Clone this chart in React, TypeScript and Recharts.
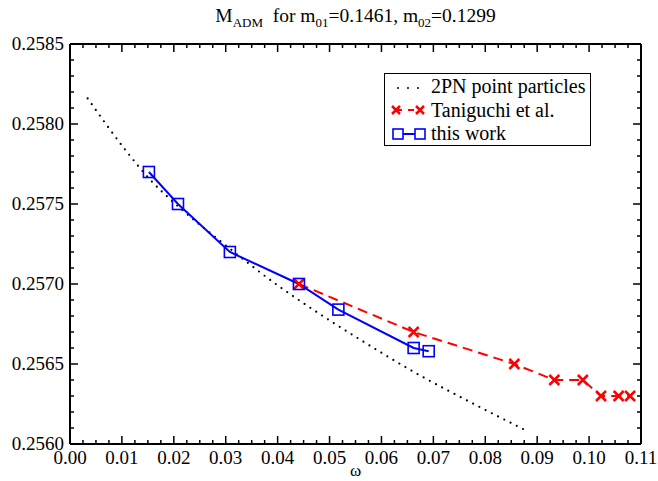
import React from 'react';
import { LineChart, Line, XAxis, YAxis, Legend } from 'recharts';

// 2PN point particles (black dotted curve)
const pnOmega = [0.0034, 0.0111, 0.0152, 0.0210, 0.0289, 0.0405, 0.0459, 0.0560, 0.0668, 0.0784, 0.0875];
const pnMass = [0.25816, 0.25782, 0.25766, 0.25748, 0.25727, 0.25698, 0.25686, 0.25665, 0.25644, 0.25624, 0.25609];

// Taniguchi et al. (red crosses, dashed)
const tanOmega = [0.0441, 0.0662, 0.0856, 0.0933, 0.0988, 0.1023, 0.1057, 0.1079];
const tanMass = [0.2570, 0.2567, 0.2565, 0.2564, 0.2564, 0.2563, 0.2563, 0.2563];

// this work (blue squares, solid)
const workOmega = [0.0152, 0.0208, 0.0308, 0.0441, 0.0517, 0.0662, 0.0691];
const workMass = [0.2577, 0.2575, 0.2572, 0.2570, 0.25684, 0.2566, 0.25658];

const xMajor = [0, 0.01, 0.02, 0.03, 0.04, 0.05, 0.06, 0.07, 0.08, 0.09, 0.1, 0.11];
const yMajor = [0.256, 0.2565, 0.257, 0.2575, 0.258, 0.2585];

const FONT = '"Liberation Serif", "Times New Roman", serif';

const zip = (xs: number[], ys: number[]) => xs.map((x, i) => ({ x, y: ys[i] }));
const pnData = zip(pnOmega, pnMass);
const tanData = zip(tanOmega, tanMass);
const workData = zip(workOmega, workMass);

const xTicks: number[] = [];
for (let i = 0; i <= 44; i++) xTicks.push(+(i * 0.0025).toFixed(4));
const yTicks: number[] = [];
for (let i = 0; i <= 25; i++) yTicks.push(+(0.256 + i * 0.0001).toFixed(4));

const isMajor = (v: number, majors: number[]) => majors.some((m) => Math.abs(m - v) < 1e-9);

const XTick = (side: 'top' | 'bottom') => (props: any) => {
  const { x, y, payload } = props;
  const major = isMajor(payload.value, xMajor);
  const len = major ? 8 : 4;
  const dir = side === 'bottom' ? -1 : 1;
  return (
    <g>
      <line x1={x} y1={y} x2={x} y2={y + dir * len} stroke="#000" strokeWidth={1.5} />
      {side === 'bottom' && major && (
        <text x={x} y={y + 20} textAnchor="middle" fontFamily={FONT} fontSize={19} fill="#000">
          {payload.value.toFixed(2)}
        </text>
      )}
    </g>
  );
};

const YTick = (side: 'left' | 'right') => (props: any) => {
  const { x, y, payload } = props;
  const major = isMajor(payload.value, yMajor);
  const len = major ? 8 : 4;
  const dir = side === 'left' ? 1 : -1;
  return (
    <g>
      <line x1={x} y1={y} x2={x + dir * len} y2={y} stroke="#000" strokeWidth={1.5} />
      {side === 'left' && major && (
        <text x={x - 6} y={y + 6} textAnchor="end" fontFamily={FONT} fontSize={19} fill="#000">
          {payload.value.toFixed(4)}
        </text>
      )}
    </g>
  );
};

const OmegaLabel = (props: any) => {
  const { viewBox } = props;
  return (
    <text x={viewBox.x + viewBox.width / 2} y={viewBox.y + 32} textAnchor="middle" fontFamily={FONT} fontSize={17} fill="#000">
      ω
    </text>
  );
};

const Cross = (props: any) => {
  const { cx, cy, index } = props;
  const s = 5;
  return (
    <path
      key={`c${index}`}
      d={`M${cx - s},${cy - s}L${cx + s},${cy + s}M${cx - s},${cy + s}L${cx + s},${cy - s}`}
      stroke="#ff0000"
      strokeWidth={2.5}
      fill="none"
    />
  );
};

const Square = (props: any) => {
  const { cx, cy, index } = props;
  return <rect key={`s${index}`} x={cx - 5.5} y={cy - 5.5} width={11} height={11} stroke="#0000ff" strokeWidth={1.6} fill="none" />;
};

const LegendBox = () => (
  <div
    style={{
      border: '1.5px solid #000',
      background: '#fff',
      width: 207,
      height: 73,
      boxSizing: 'border-box',
      fontFamily: FONT,
      fontSize: 20,
      color: '#000',
      padding: '1px 0 0 6px',
      lineHeight: '23.5px',
    }}
  >
    <div style={{ display: 'flex', alignItems: 'center' }}>
      <svg width={40} height={20}>
        <line x1={7} y1={11} x2={30} y2={11} stroke="#000" strokeWidth={2} strokeDasharray="0 10" strokeLinecap="round" />
      </svg>
      <span>2PN point particles</span>
    </div>
    <div style={{ display: 'flex', alignItems: 'center' }}>
      <svg width={40} height={20}>
        <line x1={5} y1={10} x2={29} y2={10} stroke="#ff0000" strokeWidth={2} strokeDasharray="6 6" />
        <path d="M1,6L9,14M1,14L9,6M25,6L33,14M25,14L33,6" stroke="#ff0000" strokeWidth={2.5} fill="none" />
      </svg>
      <span>Taniguchi et al.</span>
    </div>
    <div style={{ display: 'flex', alignItems: 'center' }}>
      <svg width={40} height={20}>
        <line x1={7} y1={10} x2={29} y2={10} stroke="#0000ff" strokeWidth={2} />
        <rect x={2} y={5} width={10} height={10} stroke="#0000ff" strokeWidth={1.6} fill="#fff" />
        <rect x={24} y={5} width={10} height={10} stroke="#0000ff" strokeWidth={1.6} fill="#fff" />
      </svg>
      <span>this work</span>
    </div>
  </div>
);

export default function App() {
  return (
    <div style={{ position: 'absolute', left: 0, top: 0, width: 658, height: 481, background: '#fff' }}>
      <div
        style={{
          position: 'absolute',
          left: 70,
          width: 571,
          top: 5,
          textAlign: 'center',
          fontFamily: FONT,
          fontSize: 19.5,
          color: '#000',
        }}
      >
        M<sub style={{ fontSize: 13 }}>ADM</sub>&nbsp; for m<sub style={{ fontSize: 13 }}>01</sub>=0.1461, m
        <sub style={{ fontSize: 13 }}>02</sub>=0.1299
      </div>
      <LineChart width={658} height={481} margin={{ top: 0, right: 0, bottom: 0, left: 0 }}>
        <XAxis
          xAxisId="bottom"
          dataKey="x"
          type="number"
          domain={[0, 0.11]}
          allowDataOverflow
          ticks={xTicks}
          interval={0}
          height={37}
          tickSize={0}
          tickMargin={0}
          tickLine={false}
          axisLine={{ stroke: '#000', strokeWidth: 2 }}
          tick={XTick('bottom')}
          label={OmegaLabel}
        />
        <XAxis
          xAxisId="top"
          orientation="top"
          dataKey="x"
          type="number"
          domain={[0, 0.11]}
          allowDataOverflow
          ticks={xTicks}
          interval={0}
          height={44}
          tickSize={0}
          tickMargin={0}
          tickLine={false}
          axisLine={{ stroke: '#000', strokeWidth: 2 }}
          tick={XTick('top')}
        />
        <YAxis
          yAxisId="left"
          type="number"
          domain={[0.256, 0.2585]}
          allowDataOverflow
          ticks={yTicks}
          interval={0}
          width={70}
          tickSize={0}
          tickMargin={0}
          tickLine={false}
          axisLine={{ stroke: '#000', strokeWidth: 2 }}
          tick={YTick('left')}
        />
        <YAxis
          yAxisId="right"
          orientation="right"
          type="number"
          domain={[0.256, 0.2585]}
          allowDataOverflow
          ticks={yTicks}
          interval={0}
          width={17}
          tickSize={0}
          tickMargin={0}
          tickLine={false}
          axisLine={{ stroke: '#000', strokeWidth: 2 }}
          tick={YTick('right')}
        />
        <Legend
          layout="horizontal"
          verticalAlign="middle"
          align="center"
          content={LegendBox}
          wrapperStyle={{ left: 384, top: 73, width: 207, height: 73 }}
        />
        <Line
          xAxisId="bottom"
          yAxisId="left"
          data={pnData}
          dataKey="y"
          type="monotone"
          stroke="#000"
          strokeWidth={2.2}
          strokeDasharray="0 7"
          strokeLinecap="round"
          dot={false}
          isAnimationActive={false}
        />
        <Line
          xAxisId="bottom"
          yAxisId="left"
          data={tanData}
          dataKey="y"
          type="linear"
          stroke="#ff0000"
          strokeWidth={2}
          strokeDasharray="10 6"
          dot={Cross}
          isAnimationActive={false}
        />
        <Line
          xAxisId="bottom"
          yAxisId="left"
          data={workData}
          dataKey="y"
          type="linear"
          stroke="#0000ff"
          strokeWidth={2}
          dot={Square}
          isAnimationActive={false}
        />
      </LineChart>
    </div>
  );
}
